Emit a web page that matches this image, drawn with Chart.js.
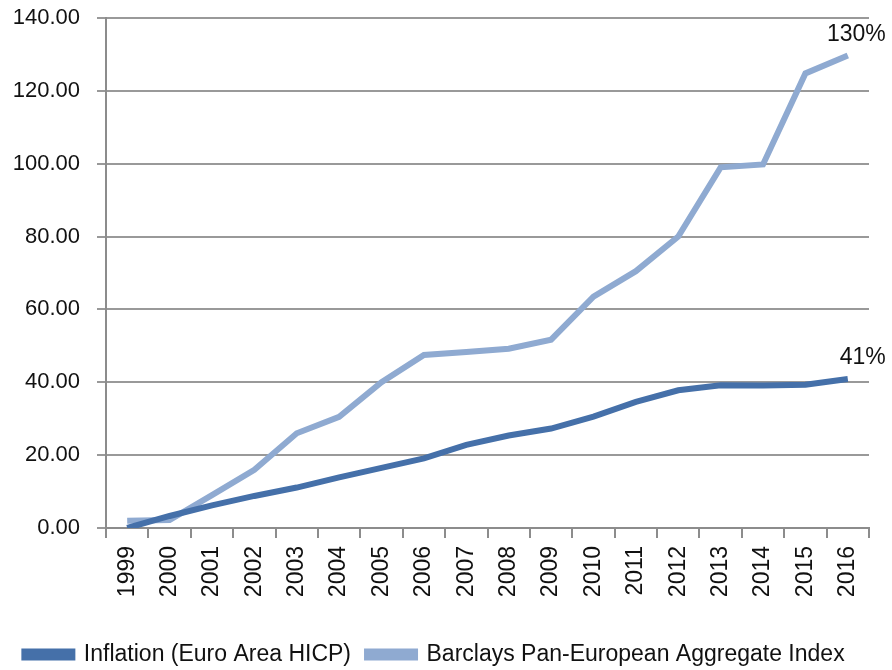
<!DOCTYPE html>
<html>
<head>
<meta charset="utf-8">
<script src="https://cdn.jsdelivr.net/npm/chart.js@4.4.1/dist/chart.umd.min.js"></script>
<style>
  html, body { margin: 0; padding: 0; background: #fff; }
  #wrap { width: 892px; height: 670px; }
</style>
</head>
<body>
<div id="wrap"><canvas id="chart"></canvas></div>
<script>
const years = ["1999", "2000", "2001", "2002", "2003", "2004", "2005", "2006", "2007",
  "2008", "2009", "2010", "2011", "2012", "2013", "2014", "2015", "2016"];
const inflation = [0, 3.3, 6.2, 8.8, 11.1, 13.9, 16.5, 19.1, 22.8, 25.4, 27.3, 30.6,
  34.6, 37.8, 39.2, 39.1, 39.3, 40.9];
const barclays = [2, 2.2, 9, 16, 26, 30.5, 40, 47.5, 48.3, 49.2, 51.7, 63.5, 70.5,
  80, 99, 99.8, 124.8, 129.7];
const endLabels = ["41%", "130%"];

const fontFamily = "'Liberation Sans', Arial, sans-serif";

// writes the end-of-line percentages above the last points
const endLabelPlugin = {
  id: "endLabels",
  afterDatasetsDraw(chart) {
    const ctx = chart.ctx;
    ctx.save();
    ctx.font = "23px " + fontFamily;
    ctx.fillStyle = "#111";
    ctx.textAlign = "right";
    ctx.textBaseline = "alphabetic";
    chart.data.datasets.forEach((ds, i) => {
      const pts = chart.getDatasetMeta(i).data;
      const p = pts[pts.length - 1];
      ctx.fillText(endLabels[i], p.x + 38, p.y - 15);
    });
    ctx.restore();
  }
};

new Chart(document.getElementById("chart"), {
  type: "line",
  data: {
    labels: years,
    datasets: [
      {
        label: "Inflation (Euro Area HICP)",
        data: inflation,
        borderColor: "#4570a9",
        backgroundColor: "#4570a9",
        borderWidth: 6,
        pointRadius: 0,
        tension: 0
      },
      {
        label: "Barclays Pan-European Aggregate Index",
        data: barclays,
        borderColor: "#8faad1",
        backgroundColor: "#8faad1",
        borderWidth: 6,
        pointRadius: 0,
        tension: 0
      }
    ]
  },
  options: {
    responsive: true,
    maintainAspectRatio: false,
    animation: false,
    layout: { padding: { left: 0, right: 23, top: 18, bottom: -6 } },
    plugins: {
      tooltip: { enabled: false },
      legend: {
        position: "bottom",
        labels: {
          boxWidth: 48,
          boxHeight: 6,
          padding: 16,
          color: "#111",
          font: { family: fontFamily, size: 23 }
        }
      }
    },
    scales: {
      x: {
        offset: true,
        grid: {
          offset: true,
          drawOnChartArea: false,
          drawTicks: true,
          tickLength: 10,
          color: "#8c8c8c",
          lineWidth: 2
        },
        border: { color: "#8c8c8c", width: 2 },
        ticks: {
          color: "#111",
          font: { family: fontFamily, size: 23 },
          minRotation: 90,
          maxRotation: 90,
          autoSkip: false,
          padding: 8
        },
        afterFit(scale) { scale.height = 99; }
      },
      y: {
        min: 0,
        max: 140,
        grid: { color: "#999", lineWidth: 2, tickLength: 9 },
        border: { color: "#8c8c8c", width: 2 },
        ticks: {
          stepSize: 20,
          color: "#111",
          font: { family: fontFamily, size: 22 },
          padding: 17,
          callback: v => v.toFixed(2)
        },
        afterFit(scale) {
          scale.width = 106;
          scale.paddingTop = 0;
          scale.paddingBottom = 0;
        }
      }
    }
  },
  plugins: [endLabelPlugin]
});
</script>
</body>
</html>
